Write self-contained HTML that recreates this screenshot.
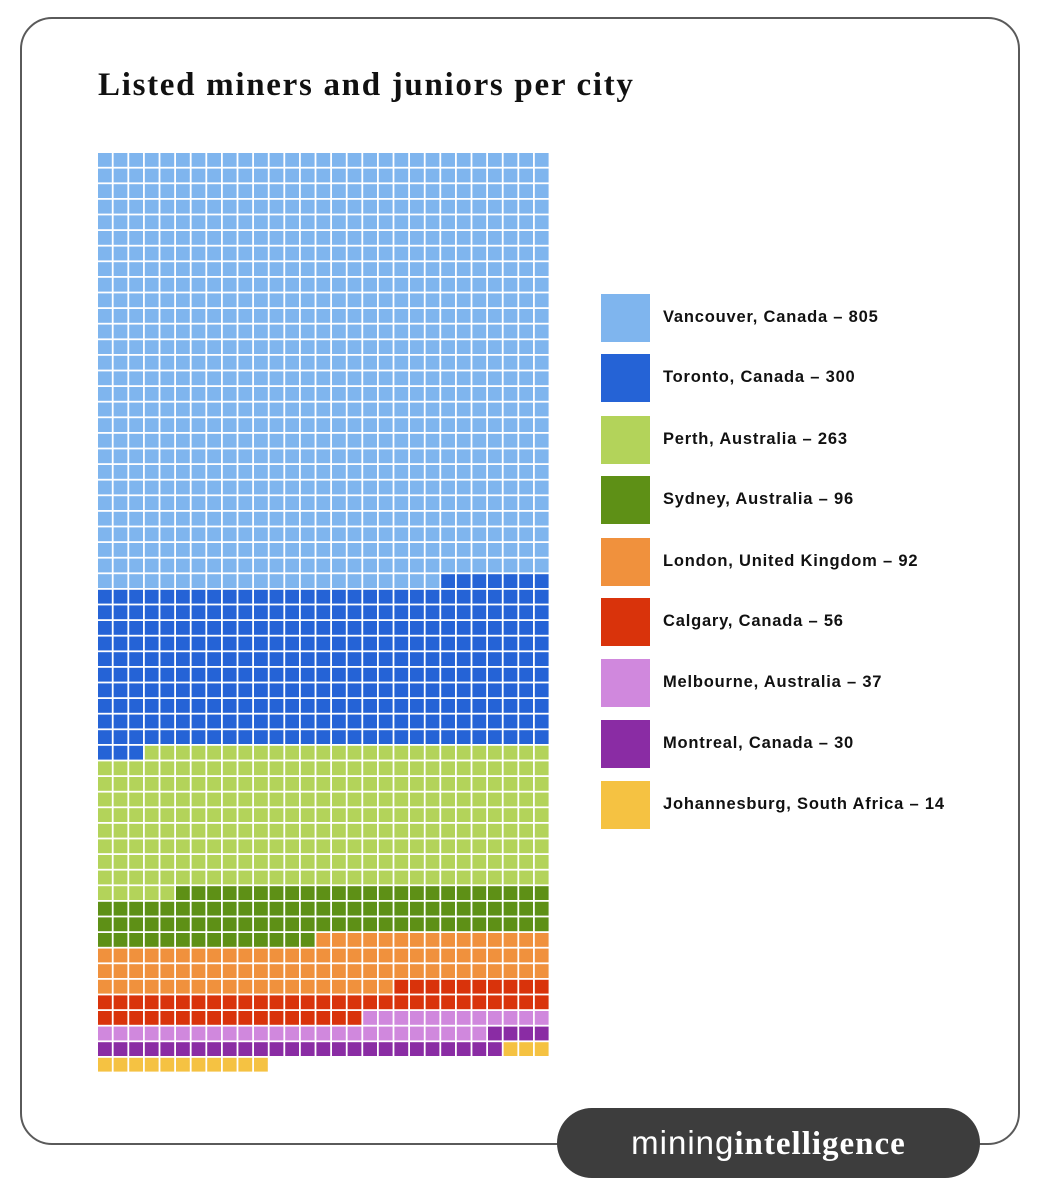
<!DOCTYPE html>
<html><head><meta charset="utf-8"><style>
body{margin:0;width:1040px;height:1200px;background:#fff;font-family:"Liberation Sans",sans-serif;position:relative;overflow:hidden}
#frame{position:absolute;left:20px;top:17px;width:996px;height:1124px;border:2px solid #5a5a5a;border-radius:32px;box-sizing:content-box}
#title{position:absolute;left:98px;top:67px;font-family:"Liberation Serif",serif;font-weight:bold;font-size:33px;letter-spacing:1.7px;color:#111}
.leg{position:absolute;left:601px;width:49px;height:48px}
.lt{position:absolute;left:663px;font-size:16.5px;font-weight:bold;color:#111;letter-spacing:0.8px}
#logo{position:absolute;left:557px;top:1108px;width:423px;height:70px;background:#3d3d3d;border-radius:35px;color:#fff;text-align:center;line-height:70px;font-size:33px;letter-spacing:1px}
</style></head><body>
<div id="frame"></div>
<div id="title">Listed miners and juniors per city</div>
<svg id="waffle" width="1040" height="1200" style="position:absolute;left:0;top:0"></svg>
<div id="legend"></div>
<div id="logo"><span style="font-weight:normal">mining</span><span style="font-weight:bold;font-family:'Liberation Serif',serif">intelligence</span></div>
<script>
const cities=["Vancouver, Canada","Toronto, Canada","Perth, Australia","Sydney, Australia","London, United Kingdom","Calgary, Canada","Melbourne, Australia","Montreal, Canada","Johannesburg, South Africa"];
const counts=[805,300,263,96,92,56,37,30,14];
const colors=["#7fb5ee","#2563d6","#b3d35a","#5e9016","#f0913d","#d9330b","#d088dd","#8a2ca4","#f5c242"];
const COLS=29,X0=98,Y0=153,P=15.6,S=13.8;
const svg=document.getElementById('waffle');
const NS="http://www.w3.org/2000/svg";
let k=0;
counts.forEach((c,ci)=>{
  for(let i=0;i<c;i++){
    const r=Math.floor(k/COLS),col=k%COLS;
    const el=document.createElementNS(NS,'rect');
    el.setAttribute('x',X0+col*P);el.setAttribute('y',Y0+r*P);
    el.setAttribute('width',S);el.setAttribute('height',S);
    el.setAttribute('fill',colors[ci]);
    
    
    svg.appendChild(el);k++;
  }
});
const legY=[294,354,416,476,538,598,659,720,781];
const lg=document.getElementById('legend');
cities.forEach((n,i)=>{
  const sw=document.createElement('div');sw.className='leg';
  sw.style.top=legY[i]+'px';sw.style.background=colors[i];
  
  
  lg.appendChild(sw);
  const t=document.createElement('div');t.className='lt';
  t.style.top=(legY[i]+14)+'px';t.textContent=n+' – '+counts[i];
  
  
  lg.appendChild(t);
});
</script>
</body></html>
